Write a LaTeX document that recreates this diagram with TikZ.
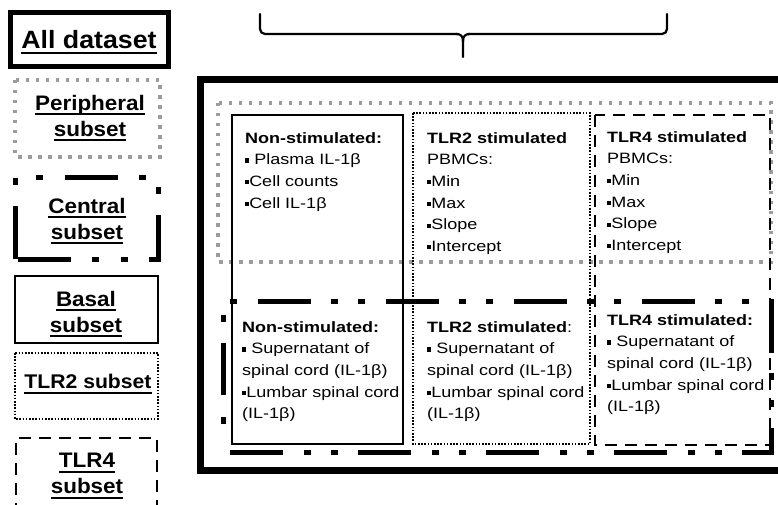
\documentclass[tikz,border=0pt]{standalone}
\usepackage{fontspec}
\setmainfont[FakeStretch=1.2]{Liberation Sans}
\newfontfamily\legfont[FakeStretch=1.07]{Liberation Sans}
\newcommand{\ulx}[1]{\setbox0\hbox{#1}\rlap{\vrule height -3.2pt depth 5.2pt width \wd0}\box0}
\definecolor{periphgray}{HTML}{9C9C9C}
\newcommand{\bsq}{\raisebox{0.15em}{\rule{0.27em}{0.27em}}}
\tikzset{
  legendtxt/.style={font=\legfont\bfseries\fontsize{21}{26}\selectfont, align=center, inner sep=0pt},
  bodytxt/.style={font=\fontsize{15}{21.7}\selectfont, align=left, anchor=north west, inner sep=0pt},
  mainbox/.style={line width=7pt},
  allbox/.style={line width=5pt},
  periph/.style={draw=periphgray, line width=3.5pt, dash pattern=on 3.5pt off 6.5pt},
  centralline/.style={line width=5pt, dash pattern=on 53pt off 20pt on 7pt off 20pt on 7pt off 21pt},
  centrallegend/.style={line width=5pt, dash pattern=on 53pt off 21.5pt on 7pt off 21.5pt on 7pt off 21.5pt},
  centralleft/.style={line width=5pt, dash pattern=on 0pt off 28pt on 7pt off 22pt on 52pt off 21pt on 7pt off 60pt},
  basalline/.style={line width=2.2pt},
  tlrtwoline/.style={line width=1.6pt, dash pattern=on 1.6pt off 1.6pt},
  tlrfourline/.style={line width=2.5pt, dash pattern=on 12pt off 8pt},
  bracel/.style={line width=2.2pt, line cap=round}
}
\begin{document}
\begin{tikzpicture}[x=1pt,y=-1pt]
\useasboundingbox (0,0) rectangle (778,505);
\clip (0,0) rectangle (778,505);
\fill[white] (0,0) rectangle (778,505);

% ---------- legend ----------
\draw[allbox] (10,13) rectangle (168,67);
\node[legendtxt, font=\legfont\bfseries\fontsize{25}{30}\selectfont] (lall) at (89,42) {\ulx{All dataset}};

\draw[periph] (15,80) rectangle (160,157);
\node[legendtxt] (lper) at (90,118) {\ulx{Peripheral}\\\ulx{subset}};

\draw[centrallegend] (15,259) -- (15,177) -- (158,177) -- (158,259) -- cycle;
\node[legendtxt] (lcen) at (87,221) {\ulx{Central}\\\ulx{subset}};

\draw[basalline] (15,276) rectangle (158,343);
\node[legendtxt] (lbas) at (86,314) {\ulx{Basal}\\\ulx{subset}};

\draw[tlrtwoline] (15,353) rectangle (158,419);
\node[legendtxt, font=\legfont\bfseries\fontsize{19.8}{25}\selectfont] (ltlr2) at (88,384) {\ulx{TLR2 subset}};

\draw[tlrfourline] (16,515) -- (16,438) -- (157,438) -- (157,515);
\node[legendtxt] (ltlr4) at (87,476) {\ulx{TLR4}\\\ulx{subset}};

% ---------- brace ----------
\draw[bracel, rounded corners=5pt] (260,14) -- (260,34) -- (458,34);
\draw[bracel, rounded corners=5pt] (667,14) -- (667,34) -- (468,34);
\draw[bracel] (456,34) .. controls (461,34) and (463,36) .. (463,42) -- (463,57);
\draw[bracel] (470,34) .. controls (465,34) and (463,36) .. (463,42);

% ---------- main panel ----------
\draw[mainbox] (200,80) rectangle (790,470);
\draw[periph] (218,103) rectangle (771,262);
\draw[centralline, dash phase=93pt] (223,301) -- (771,301) -- (771,452) -- (223,452);
\draw[centralleft] (223,452) -- (223,301);

\draw[basalline] (232,115) rectangle (403,444);
\draw[tlrtwoline] (413,113) rectangle (590,444);
\draw[tlrfourline] (595,115) rectangle (770,445);

% ---------- texts, upper row ----------
\node[bodytxt] (ns1) at (245,132) {\textbf{Non-stimulated:}\\\bsq{} Plasma IL-1β\\\bsq Cell counts\\\bsq Cell IL-1β};
\node[bodytxt] (t21) at (427,132) {\textbf{TLR2 stimulated}\\PBMCs:\\\bsq Min\\\bsq Max\\\bsq Slope\\\bsq Intercept};
\node[bodytxt] (t41) at (607,131) {\textbf{TLR4 stimulated}\\PBMCs:\\\bsq Min\\\bsq Max\\\bsq Slope\\\bsq Intercept};

% ---------- texts, lower row ----------
\node[bodytxt] (ns2) at (242,321) {\textbf{Non-stimulated:}\\\bsq{} Supernatant of\\spinal cord (IL-1β)\\\bsq Lumbar spinal cord\\(IL-1β)};
\node[bodytxt] (t22) at (427,321) {\textbf{TLR2 stimulated}:\\\bsq{} Supernatant of\\spinal cord (IL-1β)\\\bsq Lumbar spinal cord\\(IL-1β)};
\node[bodytxt] (t42) at (607,314) {\textbf{TLR4 stimulated:}\\\bsq{} Supernatant of\\spinal cord (IL-1β)\\\bsq Lumbar spinal cord\\(IL-1β)};
\end{tikzpicture}
\end{document}
